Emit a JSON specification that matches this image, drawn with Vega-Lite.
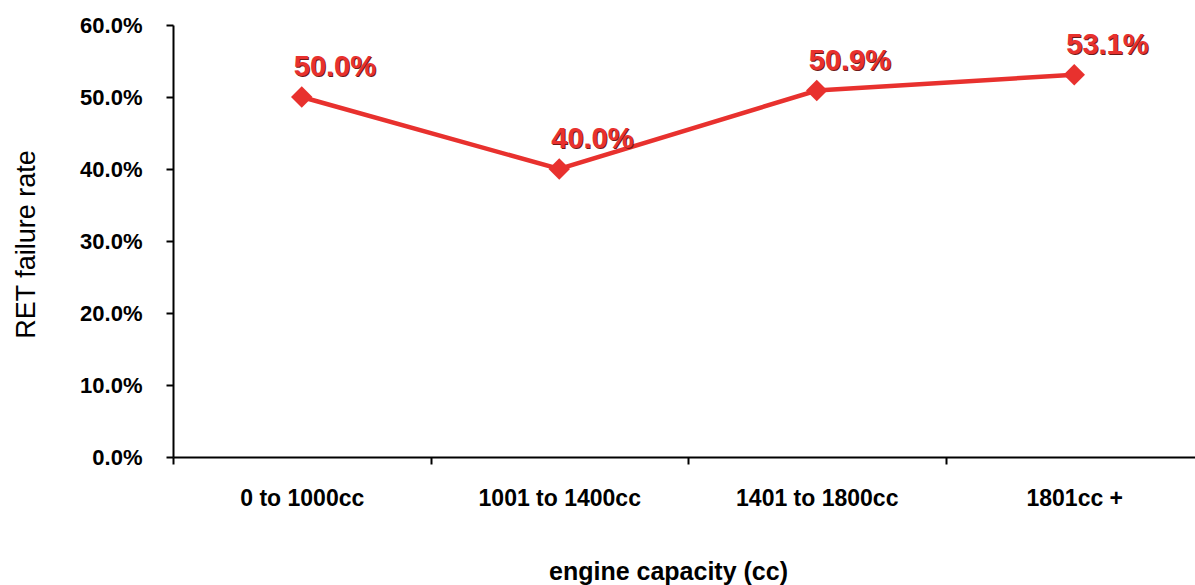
{
  "$schema": "https://vega.github.io/schema/vega-lite/v6.json",
  "autosize": {"type": "none"},
  "padding": {"left": 173, "top": 25, "right": 0, "bottom": 128},
  "width": 1030,
  "height": 432,
  "background": "white",
  "config": {
    "view": {"stroke": null},
    "font": "Liberation Sans"
  },
  "data": {
    "values": [
      {"capacity": "0 to 1000cc", "rate": 0.5},
      {"capacity": "1001 to 1400cc", "rate": 0.4},
      {"capacity": "1401 to 1800cc", "rate": 0.509},
      {"capacity": "1801cc +", "rate": 0.531}
    ]
  },
  "encoding": {
    "x": {
      "field": "capacity",
      "type": "nominal",
      "sort": null,
      "bandPosition": 0.5,
      "scale": {"type": "band", "paddingInner": 0, "paddingOuter": 0},
      "axis": {
        "title": "engine capacity  (cc)",
        "labelAngle": 0,
        "labelFont": "Liberation Sans",
        "labelFontSize": 23,
        "labelFontWeight": "bold",
        "labelColor": "black",
        "labelPadding": 23,
        "tickBand": "extent",
        "tickSize": 7,
        "tickWidth": 2,
        "tickColor": "black",
        "domainColor": "black",
        "domainWidth": 2,
        "grid": false,
        "titleFont": "Liberation Sans",
        "titleFontSize": 25,
        "titleFontWeight": "bold",
        "titleColor": "black",
        "titleX": 495,
        "titleY": 122,
        "titleAnchor": "middle",
        "titleAlign": "center",
        "titleBaseline": "alphabetic"
      }
    },
    "y": {
      "field": "rate",
      "type": "quantitative",
      "scale": {"domain": [0, 0.6], "nice": false},
      "axis": {
        "title": "RET failure rate",
        "values": [0, 0.1, 0.2, 0.3, 0.4, 0.5, 0.6],
        "format": ".1%",
        "labelFont": "Liberation Sans",
        "labelFontSize": 22,
        "labelFontWeight": "bold",
        "labelColor": "black",
        "labelPadding": 24,
        "tickSize": 7,
        "tickWidth": 2,
        "tickColor": "black",
        "domainColor": "black",
        "domainWidth": 2,
        "grid": false,
        "titleFont": "Liberation Sans",
        "titleFontSize": 27,
        "titleFontWeight": "normal",
        "titleColor": "black",
        "titleX": -147,
        "titleY": 219,
        "titleAngle": -90,
        "titleAlign": "center",
        "titleBaseline": "middle"
      }
    }
  },
  "layer": [
    {
      "mark": {"type": "line", "color": "#e8312e", "strokeWidth": 4.5}
    },
    {
      "mark": {"type": "point", "shape": "diamond", "filled": true, "size": 460, "color": "#e8312e", "opacity": 1}
    },
    {
      "mark": {
        "type": "text",
        "align": "left",
        "baseline": "alphabetic",
        "dx": -7,
        "dy": -20,
        "font": "Liberation Sans",
        "fontSize": 29,
        "fontWeight": "bold",
        "color": "#6e1a18"
      },
      "encoding": {"text": {"field": "rate", "type": "quantitative", "format": ".1%"}}
    },
    {
      "mark": {
        "type": "text",
        "align": "left",
        "baseline": "alphabetic",
        "dx": -8,
        "dy": -21,
        "font": "Liberation Sans",
        "fontSize": 29,
        "fontWeight": "bold",
        "color": "#e8312e"
      },
      "encoding": {"text": {"field": "rate", "type": "quantitative", "format": ".1%"}}
    }
  ]
}
